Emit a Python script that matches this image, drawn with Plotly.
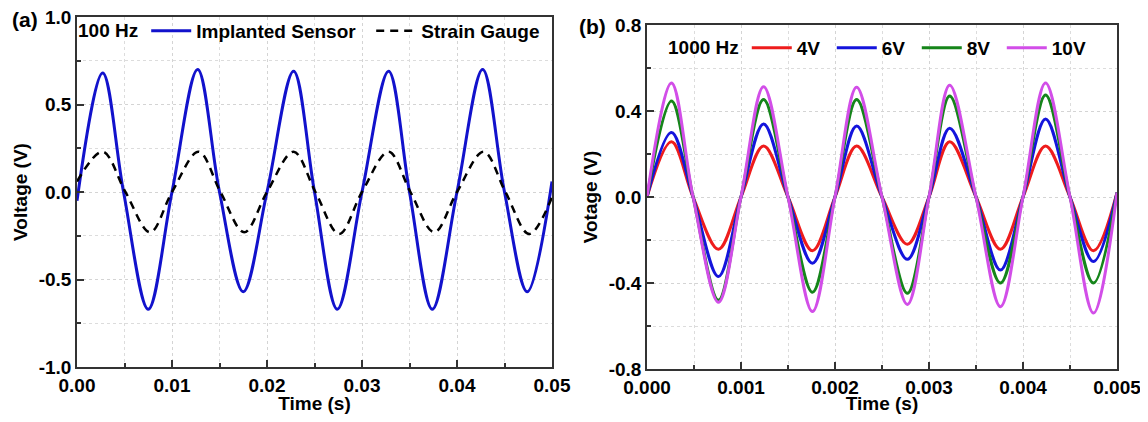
import plotly.graph_objects as go

# ---------------- Data ----------------
# Panel (a): 100 Hz, zero crossings and extrema
t_a = [0.0000, 0.0027, 0.0049, 0.0075, 0.0100, 0.0127, 0.0150, 0.0175, 0.0200,
       0.0228, 0.0250, 0.0274, 0.0300, 0.0328, 0.0350, 0.0374, 0.0400, 0.0427,
       0.0450, 0.0474, 0.0500]
implanted = [-0.05, 0.68, 0.0, -0.67, 0.0, 0.70, 0.0, -0.57, 0.0,
             0.69, 0.0, -0.67, 0.0, 0.69, 0.0, -0.67, 0.0, 0.70,
             0.0, -0.57, 0.06]
t_sg = [0.0000, 0.0027, 0.0051, 0.0077, 0.0100, 0.0128, 0.0151, 0.0176, 0.0200,
        0.0228, 0.0251, 0.0276, 0.0300, 0.0328, 0.0351, 0.0376, 0.0400, 0.0428,
        0.0451, 0.0476, 0.0500]
strain_gauge = [0.06, 0.23, 0.0, -0.23, 0.0, 0.23, 0.0, -0.23, 0.0,
                0.23, 0.0, -0.24, 0.0, 0.23, 0.0, -0.23, 0.0, 0.23,
                0.0, -0.24, -0.03]

# Panel (b): 1000 Hz at different drive voltages
t_b = [0.00000, 0.00026, 0.00049, 0.00076, 0.00100, 0.00124, 0.00150, 0.00176,
       0.00200, 0.00223, 0.00250, 0.00277, 0.00300, 0.00322, 0.00350, 0.00376,
       0.00400, 0.00424, 0.00450, 0.00475, 0.00500]
v4 = [0.0, 0.257, 0.0, -0.243, 0.0, 0.237, 0.0, -0.250, 0.0, 0.237, 0.0, -0.220,
      0.0, 0.257, 0.0, -0.243, 0.0, 0.237, 0.0, -0.250, 0.02]
v6 = [0.0, 0.300, 0.0, -0.370, 0.0, 0.340, 0.0, -0.308, 0.0, 0.330, 0.0, -0.290,
      0.0, 0.320, 0.0, -0.340, 0.0, 0.363, 0.0, -0.300, 0.02]
v8 = [0.0, 0.447, 0.0, -0.480, 0.0, 0.454, 0.0, -0.443, 0.0, 0.454, 0.0, -0.448,
      0.0, 0.470, 0.0, -0.400, 0.0, 0.474, 0.0, -0.400, 0.02]
v10 = [0.0, 0.530, 0.0, -0.490, 0.0, 0.513, 0.0, -0.533, 0.0, 0.510, 0.0, -0.500,
       0.0, 0.520, 0.0, -0.510, 0.0, 0.530, 0.0, -0.540, 0.02]

series_b = [("4V", v4, "#ee1c1c"), ("6V", v6, "#1414dc"),
            ("8V", v8, "#15851a"), ("10V", v10, "#d24ee8")]

xticks_a = [0.00, 0.01, 0.02, 0.03, 0.04, 0.05]
xticklabels_a = ["0.00", "0.01", "0.02", "0.03", "0.04", "0.05"]
yticks_a = [-1.0, -0.5, 0.0, 0.5, 1.0]
yticklabels_a = ["-1.0", "-0.5", "0.0", "0.5", "1.0"]
xticks_b = [0.000, 0.001, 0.002, 0.003, 0.004, 0.005]
xticklabels_b = ["0.000", "0.001", "0.002", "0.003", "0.004", "0.005"]
yticks_b = [-0.8, -0.4, 0.0, 0.4, 0.8]
yticklabels_b = ["-0.8", "-0.4", "0.0", "0.4", "0.8"]

# ---------------- Figure ----------------
# The page body has an 8px margin; the figure starts at (8, 8)
OFF = 8
W, H = 1148 - OFF, 422 - 2 * OFF
FONT = "Liberation Sans, Arial, sans-serif"
FS = 19

def px_x(p):
    return (p - OFF) / W

def px_y(p):
    return 1 - (p - OFF) / H

fig = go.Figure()
fig.add_trace(go.Scatter(x=t_a, y=implanted, mode="lines", name="Implanted Sensor",
                         line=dict(color="#1212cc", width=3, shape="spline", smoothing=1),
                         xaxis="x", yaxis="y", legend="legend", legendwidth=170))
fig.add_trace(go.Scatter(x=t_sg, y=strain_gauge, mode="lines", name="Strain Gauge",
                         line=dict(color="black", width=2.5, dash="8px,6px", shape="spline", smoothing=1),
                         xaxis="x", yaxis="y", legend="legend", legendwidth=125))
for name, vals, col in series_b:
    fig.add_trace(go.Scatter(x=t_b, y=vals, mode="lines", name=name,
                             line=dict(color=col, width=3, shape="spline", smoothing=1),
                             xaxis="x2", yaxis="y2", legend="legend2", legendwidth=30))

axis_common = dict(
    automargin=False,
    showline=True, mirror=True, linecolor="#333333", linewidth=1.5,
    ticks="inside", ticklen=7, tickwidth=1.5, tickcolor="#333333",
    showgrid=True, gridcolor="#d4d4d4", griddash="dot", gridwidth=1,
    zeroline=False, ticklabeloverflow="allow",
    tickfont=dict(family=FONT, size=FS, color="black", weight="bold"),
    title_font=dict(family=FONT, size=FS, color="black", weight="bold"),
)

legend_font = dict(family=FONT, size=FS, color="black", weight="bold")

fig.update_layout(
    width=W, height=H,
    margin=dict(l=0, r=0, t=0, b=0),
    paper_bgcolor="white", plot_bgcolor="white",
    font=dict(family=FONT, size=FS, color="black", weight="bold"),
    xaxis=dict(domain=[px_x(77), px_x(552)], anchor="y", range=[0, 0.05],
               tickvals=xticks_a, ticktext=xticklabels_a,
               minor=dict(dtick=0.005, tick0=0, ticks="inside", ticklen=4, tickcolor="#333333",
                          showgrid=True, gridcolor="#dcdcdc", griddash="dot"),
               title=dict(text="Time (s)", standoff=0), **axis_common),
    yaxis=dict(domain=[px_y(367), px_y(17)], anchor="x", range=[-1.0, 1.0],
               tickvals=yticks_a, ticktext=yticklabels_a,
               minor=dict(dtick=0.25, tick0=0, ticks="inside", ticklen=4, tickcolor="#333333",
                          showgrid=True, gridcolor="#dcdcdc", griddash="dot"),
               title=dict(text="Voltage (V)", standoff=6), **axis_common),
    xaxis2=dict(domain=[px_x(647), px_x(1117)], anchor="y2", range=[0, 0.005],
                tickvals=xticks_b, ticktext=xticklabels_b,
                minor=dict(dtick=0.0005, tick0=0, ticks="inside", ticklen=4, tickcolor="#333333",
                           showgrid=True, gridcolor="#dcdcdc", griddash="dot"),
                title=dict(text="Time (s)", standoff=0), **axis_common),
    yaxis2=dict(domain=[px_y(369), px_y(25)], anchor="x2", range=[-0.8, 0.8],
                tickvals=yticks_b, ticktext=yticklabels_b,
                minor=dict(dtick=0.2, tick0=0, ticks="inside", ticklen=4, tickcolor="#333333",
                           showgrid=True, gridcolor="#dcdcdc", griddash="dot"),
                title=dict(text="Votage (V)", standoff=6), **axis_common),
    legend=dict(orientation="h", x=px_x(76), y=px_y(31), xanchor="left", yanchor="middle",
                bgcolor="rgba(0,0,0,0)", borderwidth=0,
                title=dict(text="100 Hz", side="left", font=legend_font),
                font=legend_font, itemwidth=40, tracegroupgap=0),
    legend2=dict(orientation="h", x=px_x(666), y=px_y(48), xanchor="left", yanchor="middle",
                 bgcolor="rgba(0,0,0,0)", borderwidth=0,
                 title=dict(text="1000 Hz", side="left", font=legend_font),
                 font=legend_font, itemwidth=40, tracegroupgap=0),
    showlegend=True,
)

fig.add_annotation(text="(a)", x=px_x(25), y=px_y(20), xref="paper", yref="paper",
                   xanchor="center", yanchor="middle",
                   showarrow=False, font=dict(family=FONT, size=21, color="black", weight="bold"))
fig.add_annotation(text="(b)", x=px_x(592), y=px_y(26), xref="paper", yref="paper",
                   xanchor="center", yanchor="middle",
                   showarrow=False, font=dict(family=FONT, size=21, color="black", weight="bold"))

fig.write_html("out.html", config={"displayModeBar": False})
